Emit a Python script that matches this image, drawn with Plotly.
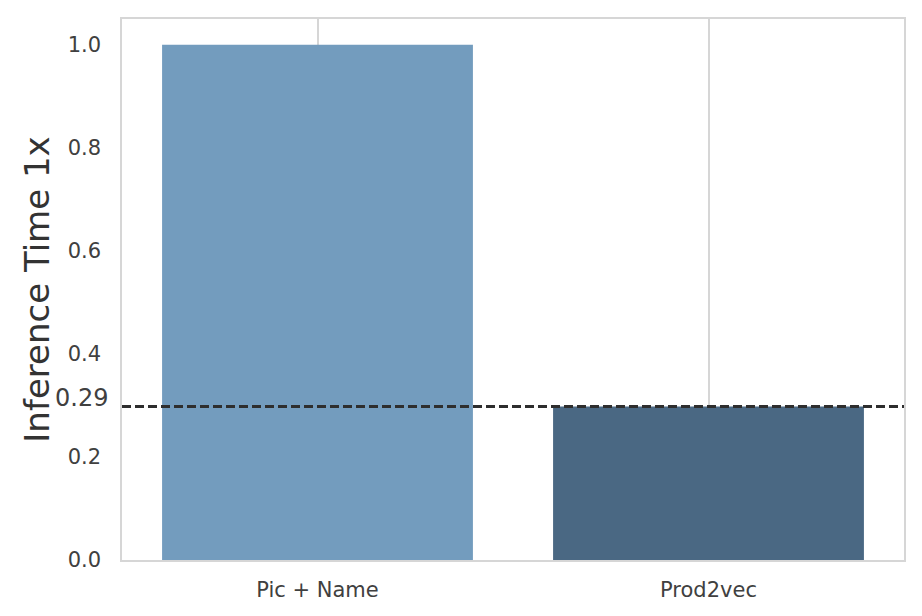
import plotly.graph_objects as go

categories = ["Pic + Name", "Prod2vec"]
values = [1.0, 0.298]
colors = ["#739cbe", "#4a6883"]
ref_value = 0.298
ref_label = "0.29"
ytick_vals = [0.0, 0.2, 0.4, 0.6, 0.8, 1.0]
ytick_text = ["0.0", "0.2", "0.4", "0.6", "0.8", "1.0"]

font_family = "DejaVu Sans"
text_color = "#404040"

fig = go.Figure()
fig.add_trace(go.Bar(
    x=categories, y=values, marker=dict(color=colors, line=dict(width=0)),
    width=0.795, showlegend=False,
))

fig.add_shape(type="line", xref="paper", x0=0, x1=1, yref="y", y0=ref_value, y1=ref_value,
              line=dict(color="#2e2e2e", width=3, dash="9px,4px"), layer="above")

fig.add_annotation(text=ref_label, xref="paper", x=-0.0153, xanchor="right",
                   yref="y", y=ref_value, yanchor="middle", yshift=8, showarrow=False,
                   font=dict(family=font_family, size=24, color=text_color))

# the page body has an 8px default margin, so margins are offset to compensate
fig.update_layout(
    width=922, height=616,
    margin=dict(l=114, r=26, t=9, b=64),
    paper_bgcolor="white", plot_bgcolor="white",
    font=dict(family=font_family, color=text_color),
    bargap=0.2,
    xaxis=dict(
        range=[-0.5, 1.5], showgrid=True, gridcolor="#d6d6d6", gridwidth=1.5,
        tickfont=dict(size=21, color=text_color),
        ticks="outside", ticklen=10, tickcolor="rgba(0,0,0,0)",
        showline=True, linecolor="#d6d6d6", linewidth=1.5, mirror=True, zeroline=False,
    ),
    yaxis=dict(
        range=[0, 1.05], showgrid=False, zeroline=False,
        tickvals=ytick_vals, ticktext=ytick_text,
        tickfont=dict(size=21, color=text_color),
        ticks="outside", ticklen=15, tickcolor="rgba(0,0,0,0)",
        showline=True, linecolor="#d6d6d6", linewidth=1.5, mirror=True,
        title=dict(text="Inference Time 1x", font=dict(size=34, color="#333333"), standoff=8),
    ),
)

fig.write_html("out.html")
